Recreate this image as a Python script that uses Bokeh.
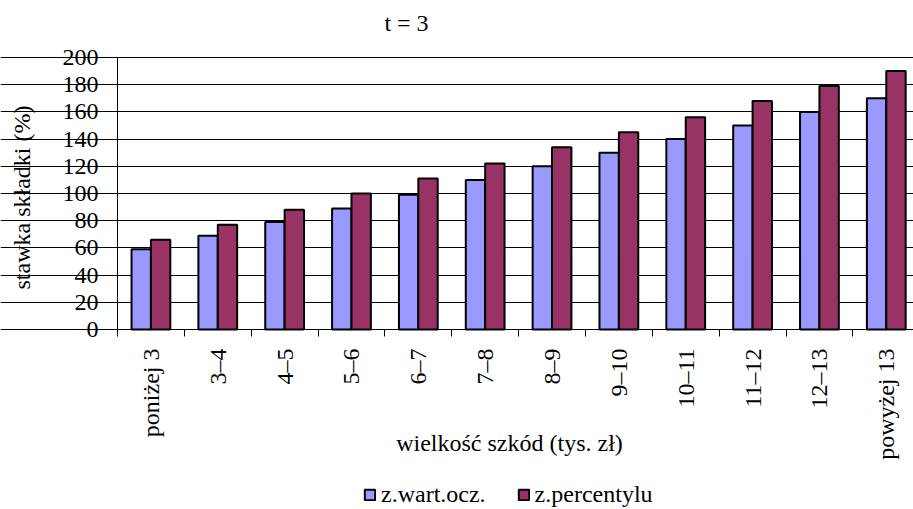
from math import pi

from bokeh.embed import file_html
from bokeh.resources import INLINE
from bokeh.plotting import figure
from bokeh.models import (ColumnDataSource, Range1d, FixedTicker, Label,
                          Legend, LegendItem)

# Claim-size classes (thousand PLN) and premium rates (%) for t = 3
categories = ["poniżej 3", "3–4", "4–5", "5–6", "6–7", "7–8", "8–9",
              "9–10", "10–11", "11–12", "12–13", "powyżej 13"]
expected_value = [59, 69, 79, 89, 99, 110, 120, 130, 140, 150, 160, 170]
percentile = [66, 77, 88, 100, 111, 122, 134, 145, 156, 168, 179, 190]
y_ticks = list(range(0, 201, 20))

series_names = ["z.wart.ocz.", "z.percentylu"]
series_colors = ["#9999FF", "#993366"]

FONT = "Liberation Serif"
FS = "24px"

W, H = 913, 509
# plot area inside the canvas (pixels): left, right edge, top, bottom
AX_L, AX_R, AX_T, AX_B = 117, 913, 57, 329
CAT_PX = 66.85
n = len(categories)
y_max = 200

# data ranges chosen so that the whole canvas is the frame and the
# value axes sit at the plot-area edges
x_start = -AX_L / CAT_PX
x_end = (AX_R - AX_L) / CAT_PX
px_per_unit = (AX_B - AX_T) / y_max
y_start = -(H - AX_B) / px_per_unit
y_end = y_max + AX_T / px_per_unit

centers = [i + 0.5 for i in range(n)]
boundaries = list(range(n + 1))

bar_w = 0.29
src = ColumnDataSource(dict(
    xa=[c - bar_w / 2 for c in centers],
    xb=[c + bar_w / 2 for c in centers],
    a=expected_value,
    b=percentile,
))

p = figure(width=W, height=H, output_backend="svg", toolbar_location=None,
           x_range=Range1d(x_start, x_end), y_range=Range1d(y_start, y_end),
           min_border=0, outline_line_color=None,
           background_fill_color="white", border_fill_color="white")

p.ygrid.grid_line_color = "black"
p.ygrid.grid_line_width = 1
p.ygrid.bounds = (0, x_end)
p.xgrid.grid_line_color = None

ra = p.vbar(x="xa", top="a", bottom=0, width=bar_w, source=src,
            fill_color=series_colors[0], line_color="black", line_width=2)
rb = p.vbar(x="xb", top="b", bottom=0, width=bar_w, source=src,
            fill_color=series_colors[1], line_color="black", line_width=2)

# x axis at y = 0: labels at class centres, tick marks at class boundaries
xax = p.xaxis[0]
xax.fixed_location = 0
xax.bounds = (0, x_end)
xax.ticker = FixedTicker(ticks=centers, minor_ticks=boundaries)
xax.major_label_overrides = {c: lab for c, lab in zip(centers, categories)}
xax.major_label_orientation = pi / 2
xax.major_tick_out = 0
xax.major_tick_in = 0
xax.minor_tick_out = 7
xax.minor_tick_in = 0
xax.minor_tick_line_color = "black"
xax.axis_line_color = "black"
xax.major_label_standoff = 12
xax.major_label_text_font = FONT
xax.major_label_text_font_size = FS
xax.major_label_text_color = "black"

# y axis at x = 0
yax = p.yaxis[0]
yax.fixed_location = 0
yax.bounds = (0, y_max)
yax.ticker = FixedTicker(ticks=y_ticks, minor_ticks=[])
yax.major_tick_out = 7
yax.major_tick_in = 0
yax.major_tick_line_color = "black"
yax.axis_line_color = "black"
yax.major_label_standoff = 12
yax.major_label_text_font = FONT
yax.major_label_text_font_size = FS
yax.major_label_text_color = "black"


def text(x, y, s, angle=0.0):
    p.add_layout(Label(x=x, y=y, x_units="screen", y_units="screen", text=s,
                       angle=angle, text_font=FONT, text_font_size=FS,
                       text_align="center", text_baseline="middle",
                       text_color="black"))


text(406, H - 22, "t = 3")
text(509, H - 442, "wielkość szkód (tys. zł)")
text(21, H - 197, "stawka składki (%)", angle=pi / 2)

legend = Legend(items=[LegendItem(label=series_names[0], renderers=[ra]),
                       LegendItem(label=series_names[1], renderers=[rb])],
                orientation="horizontal", location=(363, 1),
                glyph_width=13, glyph_height=13, label_text_font=FONT,
                label_text_font_size=FS, label_text_color="black",
                spacing=31, padding=0, margin=0, label_standoff=5,
                border_line_color=None, background_fill_alpha=0)
p.add_layout(legend)

open("out.html", "w").write(file_html(p, INLINE))
